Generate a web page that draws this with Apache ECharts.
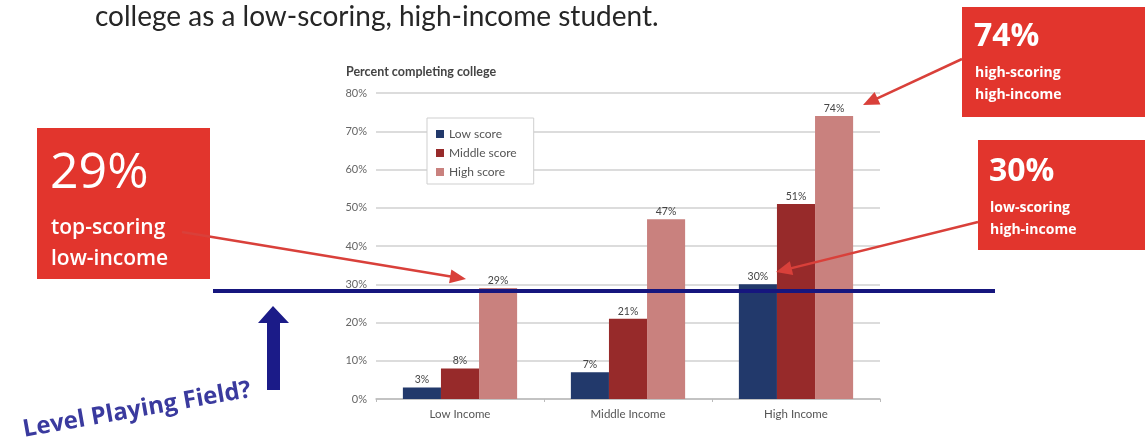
<!DOCTYPE html>
<html><head><meta charset="utf-8">
<script src="https://cdn.jsdelivr.net/npm/echarts@6/dist/echarts.min.js"></script>
<style>html,body{margin:0;padding:0;background:#fff}#c{width:1145px;height:438px}</style>
</head><body><div id="c"></div>
<script>
const categories = ['Low Income', 'Middle Income', 'High Income'];
const seriesNames = ['Low score', 'Middle score', 'High score'];
const lowScore = [3, 7, 30];
const middleScore = [8, 21, 51];
const highScore = [29, 47, 74];
const yMin = 0, yMax = 80, yInterval = 10;
const colors = ['#22396b', '#972a2a', '#c9817e'];

function arrow(x1, y1, x2, y2, color, w, hl, hw) {
  const dx = x2 - x1, dy = y2 - y1, L = Math.hypot(dx, dy);
  const ux = dx / L, uy = dy / L, px = -uy, py = ux;
  const bx = x2 - ux * hl, by = y2 - uy * hl;
  return [
    {type: 'line', shape: {x1: x1, y1: y1, x2: bx + ux * 2, y2: by + uy * 2}, style: {stroke: color, lineWidth: w}, z: 100},
    {type: 'polygon', shape: {points: [[x2, y2], [bx + px * hw, by + py * hw], [bx - px * hw, by - py * hw]]}, style: {fill: color}, z: 100}
  ];
}

const red = '#e2352d';
const arrowRed = '#d9403a';
const boxFont = '"Open Sans", sans-serif';

const graphics = [
  {type: 'text', x: 95, y: 17, style: {text: 'college as a low-scoring, high-income student.', font: '28px Lato, sans-serif', fill: '#262626', verticalAlign: 'middle'}},
  // blue level line
  {type: 'line', shape: {x1: 213, y1: 291, x2: 995, y2: 291}, style: {stroke: '#16167e', lineWidth: 4}, z: 90},
  // blue up arrow
  {type: 'polygon', shape: {points: [[273, 306], [289, 323], [280, 323], [280, 390], [267, 390], [267, 323], [258, 323]]}, style: {fill: '#1b1b88'}, z: 90},
  {type: 'text', x: 137, y: 410, rotation: 10 * Math.PI / 180, style: {text: 'Level Playing Field?', font: 'bold 24px "Open Sans", sans-serif', fill: '#3a3a9e', align: 'center', verticalAlign: 'middle'}, z: 90},
  // box 29%
  {type: 'rect', shape: {x: 37, y: 128, width: 173, height: 151}, style: {fill: red}, z: 80},
  {type: 'text', x: 50, y: 174, style: {text: '29%', font: '50px ' + boxFont, fill: '#fff', verticalAlign: 'middle'}, z: 81},
  {type: 'text', x: 51, y: 228, style: {text: 'top-scoring', font: '600 21px ' + boxFont, fill: '#fff', verticalAlign: 'middle'}, z: 81},
  {type: 'text', x: 51, y: 259, style: {text: 'low-income', font: '600 21px ' + boxFont, fill: '#fff', verticalAlign: 'middle'}, z: 81},
  // box 74%
  {type: 'rect', shape: {x: 962, y: 7, width: 183, height: 110}, style: {fill: red}, z: 80},
  {type: 'text', x: 974, y: 37, style: {text: '74%', font: 'bold 32px ' + boxFont, fill: '#fff', verticalAlign: 'middle'}, z: 81},
  {type: 'text', x: 975, y: 73, style: {text: 'high-scoring', font: 'bold 14px ' + boxFont, fill: '#fff', verticalAlign: 'middle'}, z: 81},
  {type: 'text', x: 975, y: 95, style: {text: 'high-income', font: 'bold 14px ' + boxFont, fill: '#fff', verticalAlign: 'middle'}, z: 81},
  // box 30%
  {type: 'rect', shape: {x: 978, y: 140, width: 167, height: 110}, style: {fill: red}, z: 80},
  {type: 'text', x: 989, y: 172, style: {text: '30%', font: 'bold 32px ' + boxFont, fill: '#fff', verticalAlign: 'middle'}, z: 81},
  {type: 'text', x: 990, y: 208, style: {text: 'low-scoring', font: 'bold 14px ' + boxFont, fill: '#fff', verticalAlign: 'middle'}, z: 81},
  {type: 'text', x: 990, y: 230, style: {text: 'high-income', font: 'bold 14px ' + boxFont, fill: '#fff', verticalAlign: 'middle'}, z: 81}
].concat(
  arrow(182, 232, 466, 279, arrowRed, 2.5, 16, 7),
  arrow(962, 59, 863, 105, arrowRed, 2.5, 16, 7),
  arrow(978, 222, 776, 272, arrowRed, 2.5, 16, 7)
);

const chart = echarts.init(document.getElementById('c'));
const data = [lowScore, middleScore, highScore];
chart.setOption({
  backgroundColor: '#fff',
  animation: false,
  title: {text: 'Percent completing college', left: 341, top: 60, textStyle: {fontSize: 12.5, fontWeight: 'bold', color: '#444', fontFamily: 'Lato'}},
  legend: {
    orient: 'vertical', left: 427, top: 118, data: seriesNames,
    icon: 'rect', itemWidth: 8, itemHeight: 8, itemGap: 5,
    borderColor: '#cfcfcf', borderWidth: 1, padding: [9, 17, 5, 9], backgroundColor: '#fff',
    textStyle: {fontSize: 12, color: '#555', fontFamily: 'Lato', lineHeight: 14}
  },
  grid: {left: 376, right: 265, top: 93, bottom: 39, containLabel: false},
  xAxis: {
    type: 'category', data: categories,
    axisLine: {lineStyle: {color: '#bbb', width: 1.5}},
    axisTick: {show: true, length: 3, lineStyle: {color: '#bbb'}},
    axisLabel: {fontSize: 11.5, color: '#555', margin: 9, fontFamily: 'Lato'}
  },
  yAxis: {
    type: 'value', min: yMin, max: yMax, interval: yInterval,
    axisLine: {show: false}, axisTick: {show: false},
    axisLabel: {fontSize: 11, color: '#666', formatter: '{value}%', margin: 9, fontFamily: 'Lato'},
    splitLine: {lineStyle: {color: '#dcdcdc', width: 2}}
  },
  series: seriesNames.map((n, i) => ({
    name: n, type: 'bar', data: data[i], barGap: '0%', barCategoryGap: '32%',
    itemStyle: {color: colors[i]},
    label: {show: true, position: 'top', formatter: '{c}%', fontSize: 10.5, color: '#444', distance: 2, fontFamily: 'Lato'}
  })),
  graphic: graphics
});
</script></body></html>
